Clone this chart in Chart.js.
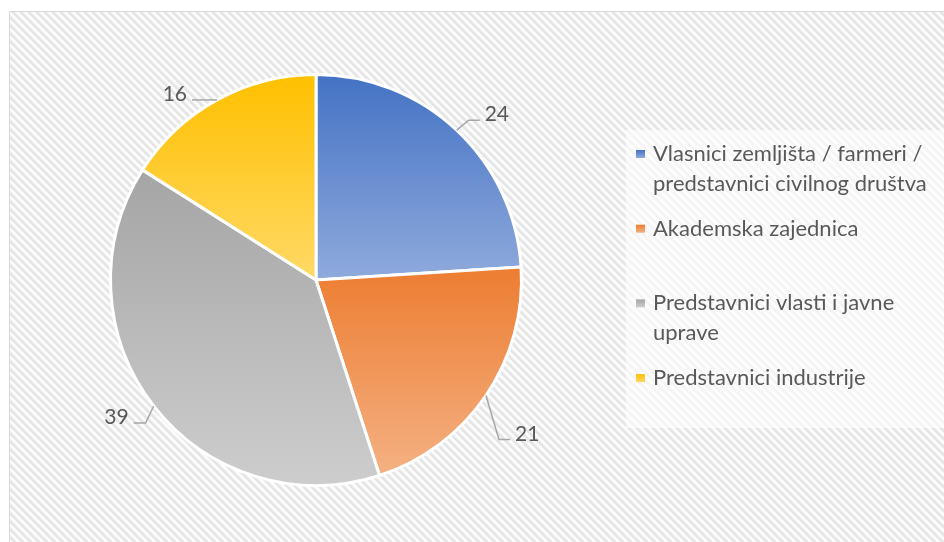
<!DOCTYPE html>
<html>
<head>
<meta charset="utf-8">
<title>Struktura sudionika</title>
<script src="https://cdn.jsdelivr.net/npm/chart.js"></script>
<style>
  html, body { margin: 0; padding: 0; background: #fff; }
  #wrap { width: 944px; height: 542px; }
</style>
</head>
<body>
<div id="wrap"><canvas id="pieChart" width="944" height="542"></canvas></div>
<script>
    // podaci
    const categories = [
        'Vlasnici zemljišta / farmeri / predstavnici civilnog društva',
        'Akademska zajednica',
        'Predstavnici vlasti i javne uprave',
        'Predstavnici industrije'
    ];
    const values = [24, 21, 39, 16];
    const topColors = ['#4472C4', '#ED7D31', '#A5A5A5', '#FFC000'];
    const bottomColors = ['#8FAADC', '#F4B183', '#CDCDCD', '#FFD966'];

    // izgled oznaka i legende
    const textColor = '#595959';
    const fontFamily = 'Lato, "Open Sans", sans-serif';
    const leaderBends = [[12, -10], [13, 44], [-8, 17], [0, 0]];
    const leaderTails = [11, 11, -12, -25];
    const BORDER = 3;

    // uzorak dijagonalnih linija za pozadinu
    function makePattern(ctx) {
        const c = document.createElement('canvas');
        c.width = 8; c.height = 8;
        const p = c.getContext('2d');
        const shades = ['#e3e3e3', '#e5e5e5', '#e9e9e9', '#f1f1f1', '#fbfbfb', '#fdfdfd', '#fbfbfb', '#efefef'];
        for (let y = 0; y < 8; y++) {
            for (let x = 0; x < 8; x++) {
                p.fillStyle = shades[(x - y + 16) % 8];
                p.fillRect(x, y, 1, 1);
            }
        }
        return ctx.createPattern(c, 'repeat');
    }

    // gradijent po visini pojedinog isječka
    function sliceGradient(context) {
        const i = context.dataIndex;
        const chart = context.chart;
        const area = chart.chartArea;
        if (!area) return topColors[i];
        const cx = (area.left + area.right) / 2;
        const cy = (area.top + area.bottom) / 2;
        const r = (Math.min(area.right - area.left, area.bottom - area.top) - BORDER) / 2;
        const total = values.reduce((a, b) => a + b, 0);
        let before = 0;
        for (let k = 0; k < i; k++) before += values[k];
        const s = -Math.PI / 2 + before / total * 2 * Math.PI;
        const e = s + values[i] / total * 2 * Math.PI;
        const ys = [cy, cy + r * Math.sin(s), cy + r * Math.sin(e)];
        const inside = a => {
            let t = a;
            while (t < s) t += 2 * Math.PI;
            while (t - 2 * Math.PI >= s) t -= 2 * Math.PI;
            return t <= e;
        };
        if (inside(-Math.PI / 2)) ys.push(cy - r);
        if (inside(Math.PI / 2)) ys.push(cy + r);
        const g = chart.ctx.createLinearGradient(0, Math.min(...ys), 0, Math.max(...ys));
        g.addColorStop(0, topColors[i]);
        g.addColorStop(1, bottomColors[i]);
        return g;
    }

    const backgroundPlugin = {
        id: 'hatchBackground',
        beforeDraw(chart) {
            const ctx = chart.ctx;
            ctx.save();
            ctx.fillStyle = '#ffffff';
            ctx.fillRect(0, 0, chart.width, chart.height);
            ctx.fillStyle = makePattern(ctx);
            ctx.fillRect(9, 11, chart.width - 9, chart.height - 11);
            ctx.strokeStyle = '#d9d9d9';
            ctx.lineWidth = 1;
            ctx.beginPath();
            ctx.moveTo(9.5, chart.height);
            ctx.lineTo(9.5, 11.5);
            ctx.lineTo(chart.width, 11.5);
            ctx.stroke();
            ctx.restore();
        }
    };

    // oznake vrijednosti s linijama vodilicama
    const labelPlugin = {
        id: 'leaderLabels',
        afterDatasetsDraw(chart) {
            const ctx = chart.ctx;
            const meta = chart.getDatasetMeta(0);
            ctx.save();
            ctx.font = '21px ' + fontFamily;
            ctx.fillStyle = textColor;
            ctx.strokeStyle = '#a6a6a6';
            ctx.lineWidth = 1.5;
            meta.data.forEach((arc, i) => {
                const { x, y, startAngle, endAngle, outerRadius } =
                    arc.getProps(['x', 'y', 'startAngle', 'endAngle', 'outerRadius'], true);
                const mid = (startAngle + endAngle) / 2;
                const ex = x + Math.cos(mid) * outerRadius;
                const ey = y + Math.sin(mid) * outerRadius;
                const bx = ex + leaderBends[i][0];
                const by = ey + leaderBends[i][1];
                const tx = bx + leaderTails[i];
                ctx.beginPath();
                ctx.moveTo(ex, ey);
                ctx.lineTo(bx, by);
                ctx.lineTo(tx, by);
                ctx.stroke();
                const right = leaderTails[i] > 0;
                ctx.textAlign = right ? 'left' : 'right';
                ctx.textBaseline = 'alphabetic';
                ctx.fillText(String(values[i]), tx + (right ? 5 : -5), by + 1);
            });
            ctx.restore();
        }
    };

    // legenda s prelamanjem teksta
    const legendPlugin = {
        id: 'sideLegend',
        afterDraw(chart) {
            const ctx = chart.ctx;
            ctx.save();
            ctx.fillStyle = 'rgba(255,255,255,0.6)';
            ctx.fillRect(626, 130, chart.width - 626, 298);
            ctx.font = '22px ' + fontFamily;
            ctx.textBaseline = 'middle';
            ctx.textAlign = 'left';
            const maxWidth = 285;
            categories.forEach((label, i) => {
                const words = label.split(' ');
                const lines = [];
                let line = '';
                words.forEach(w => {
                    const test = line ? line + ' ' + w : w;
                    if (line && ctx.measureText(test).width > maxWidth) {
                        lines.push(line);
                        line = w;
                    } else {
                        line = test;
                    }
                });
                lines.push(line);
                const top = 154 + i * 74.7;
                const g = ctx.createLinearGradient(0, top - 4, 0, top + 4);
                g.addColorStop(0, topColors[i]);
                g.addColorStop(1, bottomColors[i]);
                ctx.fillStyle = g;
                ctx.fillRect(636, top - 4, 9, 8);
                ctx.fillStyle = textColor;
                lines.forEach((l, k) => ctx.fillText(l, 653, top + k * 30));
            });
            ctx.restore();
        }
    };

    const ctx = document.getElementById('pieChart').getContext('2d');
    const chart = new Chart(ctx, {
        type: 'pie',
        data: {
            labels: categories,
            datasets: [{
                data: values,
                backgroundColor: sliceGradient,
                borderColor: '#ffffff',
                borderWidth: BORDER
            }]
        },
        options: {
            responsive: false,
            animation: false,
            layout: { padding: { left: 109, top: 73, right: 421, bottom: 55 } },
            plugins: {
                legend: { display: false },
                tooltip: { enabled: false }
            }
        },
        plugins: [backgroundPlugin, labelPlugin, legendPlugin]
    });
</script>
</body>
</html>
